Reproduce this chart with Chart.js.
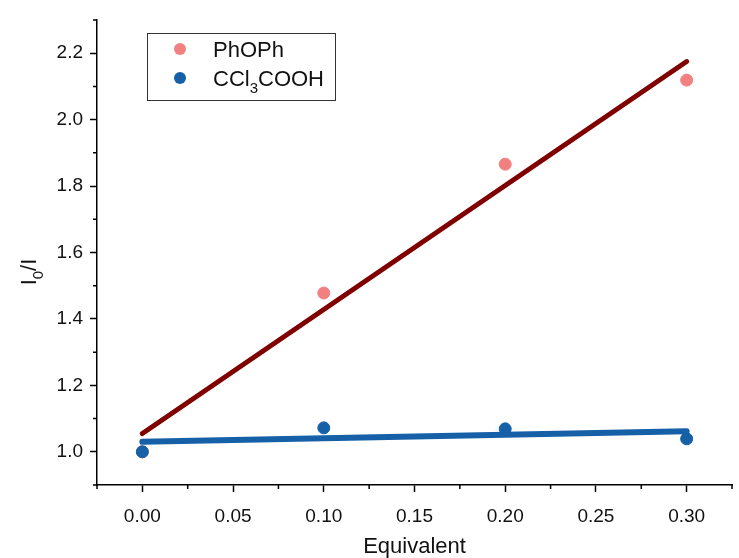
<!DOCTYPE html>
<html lang="en">
<head>
<meta charset="UTF-8">
<title>I0/I vs Equivalent</title>
<script src="https://cdn.jsdelivr.net/npm/chart.js"></script>
<style>
  html, body { margin: 0; padding: 0; background: #fff; }
  #wrap { width: 739px; height: 558px; }
</style>
</head>
<body>
<div id="wrap"><canvas id="chart"></canvas></div>
<script>
// measured points
const equivalents = [0.00, 0.10, 0.20, 0.30];
const phophValues = [1.000, 1.478, 1.866, 2.119];
const cclValues = [1.000, 1.072, 1.069, 1.039];

// linear fit lines at both ends
const fitX = [0.00, 0.30];
const phophFit = [1.055, 2.175];
const cclFit = [1.030, 1.062];

// axis ticks
const xTicks = [0.00, 0.05, 0.10, 0.15, 0.20, 0.25, 0.30];
const xMinorTicks = [-0.025, 0.025, 0.075, 0.125, 0.175, 0.225, 0.275, 0.325];
const yTicks = [1.0, 1.2, 1.4, 1.6, 1.8, 2.0, 2.2];
const yMinorTicks = [0.9, 1.1, 1.3, 1.5, 1.7, 1.9, 2.1, 2.3];

const FONT = "'Liberation Sans', Arial, sans-serif";
const PINK = "rgb(242, 128, 128)";
const BLUE = "rgb(22, 96, 168)";
const DARKRED = "rgb(128, 0, 0)";

const toPts = (xs, ys) => xs.map((x, i) => ({ x: x, y: ys[i] }));

// text with a subscript part, drawn left to right from (x, y)
function drawSub(ctx, parts, x, y, size) {
    parts.forEach(p => {
        let s = p.sub ? Math.round(size * 0.68) : size;
        ctx.font = s + "px " + FONT;
        ctx.fillText(p.t, x, p.sub ? y + size * 0.32 : y);
        x += ctx.measureText(p.t).width;
    });
}
function subWidth(ctx, parts, size) {
    let w = 0;
    parts.forEach(p => {
        ctx.font = (p.sub ? Math.round(size * 0.68) : size) + "px " + FONT;
        w += ctx.measureText(p.t).width;
    });
    return w;
}

const extras = {
    id: "extras",
    afterDraw(chart) {
        const ctx = chart.ctx;
        const xs = chart.scales.x, ys = chart.scales.y;
        const area = chart.chartArea;
        ctx.save();

        // minor ticks
        ctx.strokeStyle = "#000";
        ctx.lineWidth = 1.5;
        ctx.beginPath();
        xMinorTicks.forEach(v => {
            let px = xs.getPixelForValue(v);
            ctx.moveTo(px, area.bottom);
            ctx.lineTo(px, area.bottom + 4);
        });
        yMinorTicks.forEach(v => {
            let py = ys.getPixelForValue(v);
            ctx.moveTo(area.left, py);
            ctx.lineTo(area.left - 4, py);
        });
        ctx.stroke();

        ctx.fillStyle = "#111";
        ctx.textBaseline = "alphabetic";
        ctx.textAlign = "left";

        // x title
        ctx.font = "22px " + FONT;
        let xt = "Equivalent";
        let w = ctx.measureText(xt).width;
        ctx.fillText(xt, (area.left + area.right) / 2 - w / 2, 553);

        // y title, I0/I
        let yParts = [{ t: "I" }, { t: "0", sub: true }, { t: "/I" }];
        ctx.save();
        ctx.translate(36, 272);
        ctx.rotate(-Math.PI / 2);
        let yw = subWidth(ctx, yParts, 22);
        drawSub(ctx, yParts, -yw / 2, 0, 22);
        ctx.restore();

        // legend
        ctx.strokeStyle = "#333";
        ctx.lineWidth = 1;
        ctx.fillStyle = "#fff";
        ctx.fillRect(147.5, 33.5, 188, 67);
        ctx.strokeRect(147.5, 33.5, 188, 67);
        let items = [
            { color: PINK, parts: [{ t: "PhOPh" }], y: 49 },
            { color: BLUE, parts: [{ t: "CCl" }, { t: "3", sub: true }, { t: "COOH" }], y: 78 }
        ];
        items.forEach(it => {
            ctx.fillStyle = it.color;
            ctx.beginPath();
            ctx.arc(180, it.y, 6, 0, Math.PI * 2);
            ctx.fill();
            ctx.fillStyle = "#111";
            drawSub(ctx, it.parts, 213, it.y + 8, 22);
        });

        ctx.restore();
    }
};

new Chart(document.getElementById("chart"), {
    type: "scatter",
    data: {
        datasets: [
            {
                label: "PhOPh fit",
                data: toPts(fitX, phophFit),
                showLine: true,
                borderColor: DARKRED,
                borderWidth: 5,
                borderCapStyle: "round",
                pointRadius: 0,
                order: 3
            },
            {
                label: "CCl3COOH fit",
                data: toPts(fitX, cclFit),
                showLine: true,
                borderColor: BLUE,
                borderWidth: 6,
                borderCapStyle: "round",
                pointRadius: 0,
                order: 1
            },
            {
                label: "PhOPh",
                data: toPts(equivalents, phophValues),
                backgroundColor: PINK,
                borderColor: PINK,
                pointRadius: 6,
                order: 4
            },
            {
                label: "CCl3COOH",
                data: toPts(equivalents, cclValues),
                backgroundColor: BLUE,
                borderColor: BLUE,
                pointRadius: 6,
                order: 2
            }
        ]
    },
    options: {
        responsive: true,
        maintainAspectRatio: false,
        animation: false,
        layout: { padding: { top: 20, right: 7, left: 0, bottom: 0 } },
        plugins: {
            legend: { display: false },
            tooltip: { enabled: false }
        },
        scales: {
            x: {
                type: "linear",
                min: -0.025,
                max: 0.325,
                afterBuildTicks: s => { s.ticks = xTicks.map(v => ({ value: v })); },
                afterFit: s => { s.height = 73; },
                ticks: {
                    color: "#111",
                    padding: 13,
                    maxRotation: 0,
                    autoSkip: false,
                    font: { family: FONT, size: 19 },
                    callback: v => Number(v).toFixed(2)
                },
                grid: { drawOnChartArea: false, tickLength: 7, tickColor: "#000", tickWidth: 1.5 },
                border: { color: "#000", width: 1.5 }
            },
            y: {
                type: "linear",
                min: 0.9,
                max: 2.3,
                afterBuildTicks: s => { s.ticks = yTicks.map(v => ({ value: v })); },
                afterFit: s => { s.width = 97; },
                ticks: {
                    color: "#111",
                    padding: 7,
                    autoSkip: false,
                    font: { family: FONT, size: 19 },
                    callback: v => Number(v).toFixed(1)
                },
                grid: { drawOnChartArea: false, tickLength: 7, tickColor: "#000", tickWidth: 1.5 },
                border: { color: "#000", width: 1.5 }
            }
        }
    },
    plugins: [extras]
});
</script>
</body>
</html>
